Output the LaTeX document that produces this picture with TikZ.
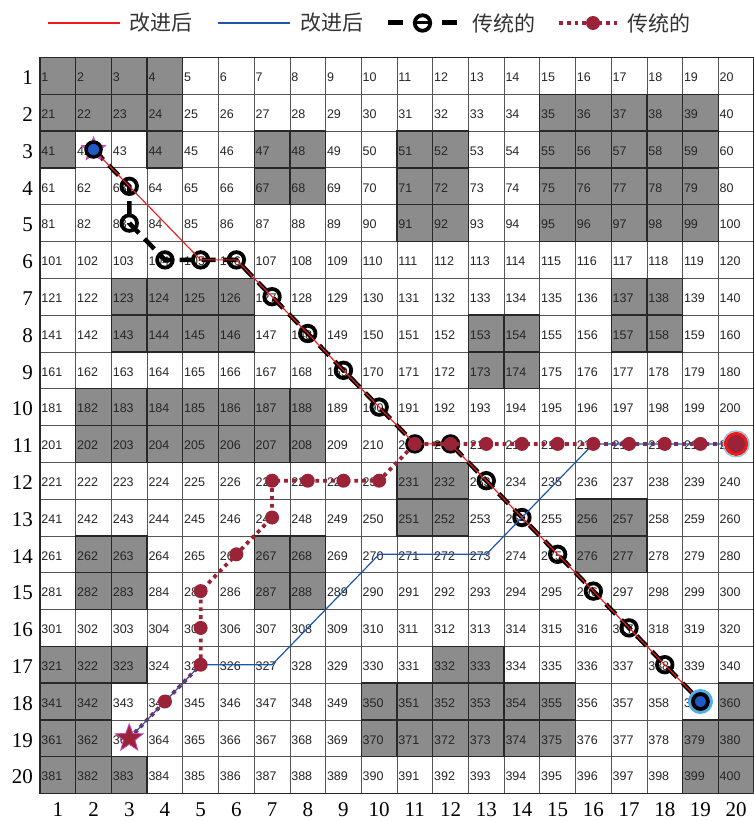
\documentclass[tikz,border=0pt]{standalone}
\usepackage{fontspec}
\setmainfont{Liberation Serif}
\newfontfamily\numfont{Liberation Sans}
\newfontfamily\cjk{Noto Sans CJK SC}
\usetikzlibrary{shapes.geometric}
\definecolor{obstc}{RGB}{140,140,140}
\definecolor{gridc}{RGB}{85,85,85}
\definecolor{obstb}{RGB}{40,40,40}
\definecolor{maroon}{RGB}{155,35,55}
\definecolor{blueln}{RGB}{30,85,175}
\definecolor{redln}{RGB}{240,25,25}
\definecolor{bluedot}{RGB}{30,90,200}
\definecolor{halo}{RGB}{80,175,230}
\definecolor{violetstar}{RGB}{175,95,200}
\definecolor{magstar}{RGB}{200,70,190}
\tikzset{
  num/.style={font=\numfont\fontsize{12.5}{14}\selectfont, anchor=west, inner sep=0pt, text=black!85},
  lab/.style={font=\fontsize{21}{23}\selectfont, inner sep=0pt},
  leg/.style={font=\cjk\fontsize{21}{24}\selectfont, anchor=west, inner sep=0pt, text=black!80},
  gridl/.style={draw=gridc, line width=0.8pt},
  obstline/.style={draw=obstb, line width=1.3pt},
  blackpath/.style={draw=black, line width=4.5pt, dash pattern=on 14pt off 8pt},
  ringm/.style={circle, draw=black, line width=3.8pt, minimum size=15.5pt, inner sep=0pt},
  redpath/.style={draw=redln, line width=1.1pt},
  bluepath/.style={draw=blueln, line width=1.2pt},
  mpath/.style={draw=maroon, line width=3.8pt, dash pattern=on 3.8pt off 4pt},
  mdot/.style={circle, fill=maroon, minimum size=14pt, inner sep=0pt},
}
\begin{document}
\begin{tikzpicture}[x=1pt,y=-1pt]
\useasboundingbox (0,0) rectangle (753,821);
\fill[white] (0,0) rectangle (753,821);
% obstacles
\foreach \n in {1,2,3,4,21,22,23,24,35,36,37,38,39,41,44,47,48,51,52,55,56,57,58,59,
  67,68,71,72,75,76,77,78,79,91,92,95,96,97,98,99,123,124,125,126,137,138,
  143,144,145,146,153,154,157,158,173,174,182,183,184,185,186,187,188,
  202,203,204,205,206,207,208,231,232,251,252,256,257,262,263,267,268,276,277,
  282,283,287,288,321,322,323,332,333,341,342,350,351,352,353,354,355,360,
  361,362,370,371,372,373,374,375,379,380,381,382,383,399,400}{
  \pgfmathtruncatemacro\rr{div(\n-1,20)}
  \pgfmathtruncatemacro\cc{\n-1-20*\rr}
  \fill[obstc] ({40+35.7*\cc},{57.5+36.8*\rr}) rectangle +(35.7,36.8);
}
% grid
\foreach \i in {0,...,20}{
  \draw[gridl] ({40+35.7*\i},57.5) -- ({40+35.7*\i},793.5);
  \draw[gridl] (40,{57.5+36.8*\i}) -- (754,{57.5+36.8*\i});
}
\draw[draw=obstb, line width=1.2pt] (40,57.5) rectangle (754,793.5);
\foreach \n in {1,2,3,4,21,22,23,24,35,36,37,38,39,41,44,47,48,51,52,55,56,57,58,59,
  67,68,71,72,75,76,77,78,79,91,92,95,96,97,98,99,123,124,125,126,137,138,
  143,144,145,146,153,154,157,158,173,174,182,183,184,185,186,187,188,
  202,203,204,205,206,207,208,231,232,251,252,256,257,262,263,267,268,276,277,
  282,283,287,288,321,322,323,332,333,341,342,350,351,352,353,354,355,360,
  361,362,370,371,372,373,374,375,379,380,381,382,383,399,400}{
  \pgfmathtruncatemacro\rr{div(\n-1,20)}
  \pgfmathtruncatemacro\cc{\n-1-20*\rr}
  \draw[obstline] ({40+35.7*\cc},{57.5+36.8*\rr}) rectangle +(35.7,36.8);
}
% cell numbers and centers
\foreach \r in {1,...,20}{
  \foreach \c in {1,...,20}{
    \pgfmathtruncatemacro\n{(\r-1)*20+\c}
    \pgfmathsetmacro\xl{40+35.7*(\c-1)}
    \pgfmathsetmacro\yc{57.5+36.8*(\r-0.5)}
    \coordinate (p\n) at ({\xl+17.85},\yc);
    \node[num] (t\n) at ({\xl+1.2},{\yc+1.5}) {\n};
  }
}
% axis labels
\foreach \r in {1,...,20}{
  \node[lab, anchor=east] (rl\r) at (33,{57.5+36.8*(\r-0.5)+2}) {\r};
}
\foreach \c in {1,...,20}{
  \node[lab] (cl\c) at ({40+35.7*(\c-0.5)},809.5) {\c};
}
% traditional black path
\draw[blackpath] (p42) -- (p63) -- (p83) -- (p104) -- (p105) -- (p106) -- (p127) -- (p148) -- (p169) -- (p190) -- (p211) -- (p212) -- (p233) -- (p254) -- (p275) -- (p296) -- (p317) -- (p338) -- (p359);
\foreach \n in {63,83,104,105,106,127,148,169,190,211,212,233,254,275,296,317,338}{
  \node[ringm] (k\n) at (p\n) {};
}
% improved red path
\draw[redpath] (p42) -- (p105) -- (p106) -- (p211) -- (p212) -- (p359);
% traditional maroon dotted path
\draw[mpath] (p363) -- (p325) -- (p305) -- (p285) -- (p247) -- (p227) -- (p230) -- (p211) -- (p220);
% improved blue path
\draw[bluepath] (p363) -- (p325) -- (p327) -- (p270) -- (p273) -- (p216) -- (p220);
\foreach \n in {344,325,305,285,266,247,227,228,229,230,211,212,213,214,215,216,217,218,219}{
  \node[mdot] (m\n) at (p\n) {};
}
% start / end markers
\node[star, star points=5, star point ratio=2.4, minimum size=25pt, inner sep=0pt, fill=violetstar, draw=magstar, line width=0.8pt] (s42) at (p42) {};
\node[circle, draw=black, line width=3.5pt, fill=bluedot, minimum size=15pt, inner sep=0pt] (k42) at (p42) {};
\node[circle, fill=halo, minimum size=25pt, inner sep=0pt] (h359) at (p359) {};
\node[circle, draw=black, line width=3.8pt, fill=bluedot, minimum size=15pt, inner sep=0pt] (k359) at (p359) {};
\node[circle, draw=halo!70!white, line width=1.2pt, minimum size=26pt, inner sep=0pt] (h220) at (p220) {};
\node[circle, draw=redln, line width=3pt, fill=maroon, minimum size=21pt, inner sep=0pt] (e220) at (p220) {};
\node[star, star points=5, star point ratio=2.4, minimum size=29pt, inner sep=0pt, fill=maroon, draw=magstar, line width=0.8pt] (s363) at (p363) {};
% legend
\coordinate (la1) at (48,23); \coordinate (lb1) at (120,23);
\draw[redpath] (la1) -- (lb1);
\node[leg] (lt1) at (129,23) {改进后};
\coordinate (la2) at (218,23); \coordinate (lb2) at (290,23);
\draw[bluepath] (la2) -- (lb2);
\node[leg] (lt2) at (300,23) {改进后};
\coordinate (la3) at (388,23); \coordinate (lm3) at (403,23);
\coordinate (ln3) at (442,23); \coordinate (lb3) at (457,23);
\draw[draw=black, line width=5pt] (la3) -- (lm3);
\draw[draw=black, line width=5pt] (ln3) -- (lb3);
\node[ringm] (lr3) at (422.5,23) {};
\draw[draw=black, line width=3pt] (lr3.west) -- (lr3.east);
\node[leg] (lt3) at (472,23) {传统的};
\coordinate (la4) at (559,23); \coordinate (lb4) at (620,23);
\draw[mpath] (la4) -- (lb4);
\node[mdot] (lm4) at (593,23) {};
\node[leg] (lt4) at (627,23) {传统的};
\end{tikzpicture}
\end{document}
